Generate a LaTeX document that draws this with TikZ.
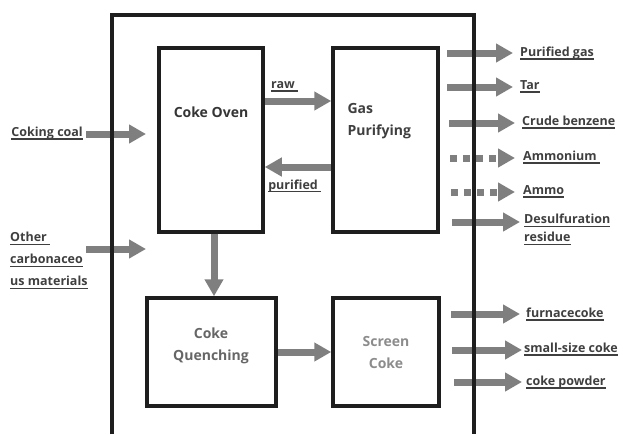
\documentclass[tikz,border=0pt]{standalone}
\usepackage{fontspec}
\setmainfont{Open Sans}
\usetikzlibrary{positioning,arrows.meta}
\definecolor{flowgray}{HTML}{7F7F7F}
\definecolor{boxblack}{HTML}{1E1E1E}
\definecolor{lblgray}{HTML}{3F3F3F}
% thick underline
\newcommand{\ulbox}[1]{\setbox0\hbox{#1}\rlap{\rule[-3.2pt]{\wd0}{1.4pt}}\box0}

\begin{document}
\begin{tikzpicture}[x=1pt, y=-1pt,
  every node/.style={font=\bfseries\fontsize{12.5}{15}\selectfont},
  box/.style={rectangle, draw=boxblack, line width=3.5pt, inner sep=0pt},
  boxtxt/.style={align=center, font=\bfseries\fontsize{14}{22}\selectfont},
  flow/.style={draw=flowgray, line width=7pt, -{Triangle[length=17pt, width=18pt]}},
  dotflow/.style={flow, dash pattern=on 7pt off 6pt},
  lbl/.style={text=lblgray, inner sep=0pt},
  frame/.style={draw=boxblack, line width=3.5pt}]
  \useasboundingbox (0,0) rectangle (623,434);
  % Process blocks
  \node[box, minimum width=104pt, minimum height=184pt] (oven)   at (211,140) {};
  \node[box, minimum width=105pt, minimum height=184pt] (purify) at (385.5,140) {};
  \node[box, minimum width=129pt, minimum height=108pt] (quench) at (211.5,352) {};
  \node[box, minimum width=106pt, minimum height=108pt] (screen) at (386,352) {};
  \node[boxtxt, text=boxblack!90] (ovenname) at (211,112) {Coke Oven};
  \node[boxtxt, text=lblgray, align=left, anchor=north west] (purifyname) at (344,100) {Gas\\Purifying};
  \node[boxtxt, text=black!60] (quenchname) at (211,346) {Coke\\Quenching};
  \node[boxtxt, text=black!45] (screenname) at (386,352) {Screen\\Coke};
  % Inputs on the left
  \node[lbl, anchor=mid east] (coal) at (83,134) {\ulbox{Coking coal}};
  \node[lbl, anchor=north west, align=left, font=\bfseries\fontsize{12.5}{22}\selectfont] (other) at (10,232)
    {\ulbox{Other\ }\\\ulbox{carbonaceo}\\\ulbox{us materials}};
  \coordinate (coalstart) at (86,134);
  \coordinate (coalend) at (146,134);
  \coordinate (otherstart) at (86,249);
  \coordinate (otherend) at (146,249);
  \draw[flow] (coalstart) -- (coalend);
  \draw[flow] (otherstart) -- (otherend);
  % Gas loop and coke line
  \draw[flow] ([yshift=39pt]oven.east) -- ([yshift=39pt]purify.west) node[lbl, pos=0.3, above=6pt] (raw) {\ulbox{raw\ }};
  \draw[flow] ([yshift=-27pt]purify.west) -- ([yshift=-27pt]oven.east) node[lbl, pos=0.55, below=9pt] (pur) {\ulbox{purified\ }};
  \draw[flow] ([xshift=3pt]oven.south) -- ([xshift=3pt]oven.south |- quench.north);
  \draw[flow] (quench.east) -- (screen.west);
  % Outputs on the right
  \node[lbl, anchor=mid west] (gas)   at (520,54)  {\ulbox{Purified gas}};
  \node[lbl, anchor=mid west] (tar)   at (520,87)  {\ulbox{Tar}};
  \node[lbl, anchor=mid west] (benz)  at (522,123) {\ulbox{Crude benzene}};
  \node[lbl, anchor=mid west] (amm)   at (523,158) {\ulbox{Ammonium\ }};
  \node[lbl, anchor=mid west] (ammo)  at (523,192) {\ulbox{Ammo}};
  \node[lbl, anchor=north west, align=left, font=\bfseries\fontsize{12.5}{18}\selectfont] (desulf) at (524,214)
    {\ulbox{Desulfuration}\\\ulbox{residue}};
  \node[lbl, anchor=mid west] (furn)  at (526,315) {\ulbox{furnacecoke}};
  \node[lbl, anchor=mid west] (small) at (524,350) {\ulbox{small-size coke}};
  \node[lbl, anchor=mid west] (powd)  at (526,383) {\ulbox{coke powder}};
  \coordinate (gasstart) at (447,53);
  \coordinate (tarstart) at (447,87);
  \coordinate (benzstart) at (449,123);
  \coordinate (ammstart) at (450,158);
  \coordinate (ammostart) at (451,192);
  \coordinate (desstart) at (452,222);
  \coordinate (furnstart) at (451,314);
  \coordinate (smallstart) at (452,350);
  \coordinate (powdstart) at (454,382);
  \draw[flow] (gasstart) -- ([xshift=-7pt]gasstart -| gas.west);
  \draw[flow] (tarstart) -- ([xshift=-7pt]tarstart -| tar.west);
  \draw[flow] (benzstart) -- ([xshift=-7pt]benzstart -| benz.west);
  \draw[dotflow] (ammstart) -- ([xshift=-8pt]ammstart -| amm.west);
  \draw[dotflow] (ammostart) -- ([xshift=-8pt]ammostart -| ammo.west);
  \draw[flow] (desstart) -- ([xshift=-4pt]desstart -| desulf.west);
  \draw[flow] (furnstart) -- ([xshift=-6pt]furnstart -| furn.west);
  \draw[flow] (smallstart) -- ([xshift=-2pt]smallstart -| small.west);
  \draw[flow] (powdstart) -- ([xshift=-4pt]powdstart -| powd.west);
  % Plant boundary (open at the bottom)
  \draw[frame] (112,434) -- (112,15) -- (474,15) -- (474,434);
\end{tikzpicture}
\end{document}
